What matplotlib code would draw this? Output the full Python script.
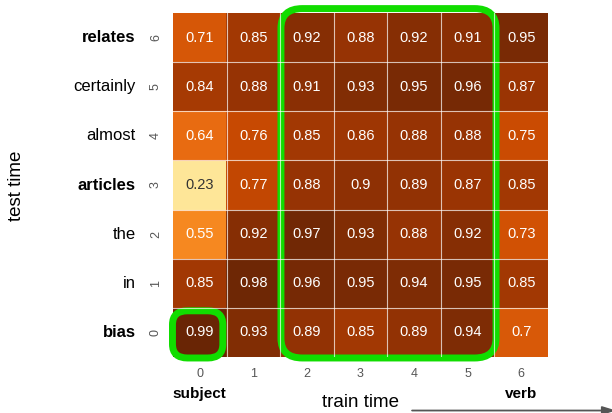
import numpy as np
import matplotlib
matplotlib.use('Agg')
import matplotlib.pyplot as plt
from matplotlib.patches import FancyBboxPatch

plt.rcParams['font.family'] = ['Liberation Sans', 'DejaVu Sans']

# rows are test time 0..6 (bottom to top), columns are train time 0..6
words = ['bias', 'in', 'the', 'articles', 'almost', 'certainly', 'relates']
bold_words = ['bias', 'articles', 'relates']
cols = [0, 1, 2, 3, 4, 5, 6]
row0 = [0.99, 0.93, 0.89, 0.85, 0.89, 0.94, 0.7]
row1 = [0.85, 0.98, 0.96, 0.95, 0.94, 0.95, 0.85]
row2 = [0.55, 0.92, 0.97, 0.93, 0.88, 0.92, 0.73]
row3 = [0.23, 0.77, 0.88, 0.9, 0.89, 0.87, 0.85]
row4 = [0.64, 0.76, 0.85, 0.86, 0.88, 0.88, 0.75]
row5 = [0.84, 0.88, 0.91, 0.93, 0.95, 0.96, 0.87]
row6 = [0.71, 0.85, 0.92, 0.88, 0.92, 0.91, 0.95]
x_extra = {0: 'subject', 6: 'verb'}

vals = np.array([row0, row1, row2, row3, row4, row5, row6])

fig = plt.figure(figsize=(6.12, 4.13), dpi=100)
ax = fig.add_axes([0.2827, 0.1356, 0.6127, 0.8329])
ax.imshow(vals, cmap='YlOrBr', vmin=0, vmax=1, origin='lower', aspect='auto')

# light grid between cells
for k in range(1, 7):
    ax.axvline(k - 0.5, color='white', lw=0.8, alpha=0.7)
    ax.axhline(k - 0.5, color='white', lw=0.8, alpha=0.7)

for i in range(7):
    for j in range(7):
        v = vals[i, j]
        c = '#333333' if v < 0.4 else 'white'
        ax.text(j, i, f'{v:g}', ha='center', va='center', color=c, fontsize=10.5)

for s in ax.spines.values():
    s.set_visible(False)
ax.set_xticks(cols)
ax.set_yticks(range(7))
ax.set_xticklabels([str(c) for c in cols], color='#555555', fontsize=9)
ax.set_yticklabels([str(r) for r in range(7)], color='#555555', fontsize=9,
                   rotation=90, va='center')
ax.tick_params(length=0, pad=8)

for r, w in enumerate(words):
    ax.text(-1.2, r, w, ha='right', va='center', fontsize=12,
            fontweight='bold' if w in bold_words else 'normal')
for c, w in x_extra.items():
    ax.text(c, -1.25, w, ha='center', va='center', fontsize=11, fontweight='bold')

fig.text(0.589, 0.025, 'train time', ha='center', va='center', fontsize=13.5)
fig.text(0.027, 0.55, 'test time', ha='center', va='center', fontsize=13.5, rotation=90)
fig.patches.append(matplotlib.patches.FancyArrow(
    0.673, 0.006, 0.33, 0, width=0.001, head_width=0.018, head_length=0.02,
    length_includes_head=True, color='#555555', transform=fig.transFigure, figure=fig))

green = '#11dd00'
small = FancyBboxPatch((-0.51, -0.52), 0.94, 0.96,
                       boxstyle='round,pad=0,rounding_size=0.28',
                       fill=False, ec=green, lw=5, clip_on=False)
big = FancyBboxPatch((1.515, -0.52), 4.015, 7.11,
                     boxstyle='round,pad=0,rounding_size=0.4',
                     fill=False, ec=green, lw=5, clip_on=False)
ax.add_patch(small)
ax.add_patch(big)

fig.savefig('out.png', dpi=100)
